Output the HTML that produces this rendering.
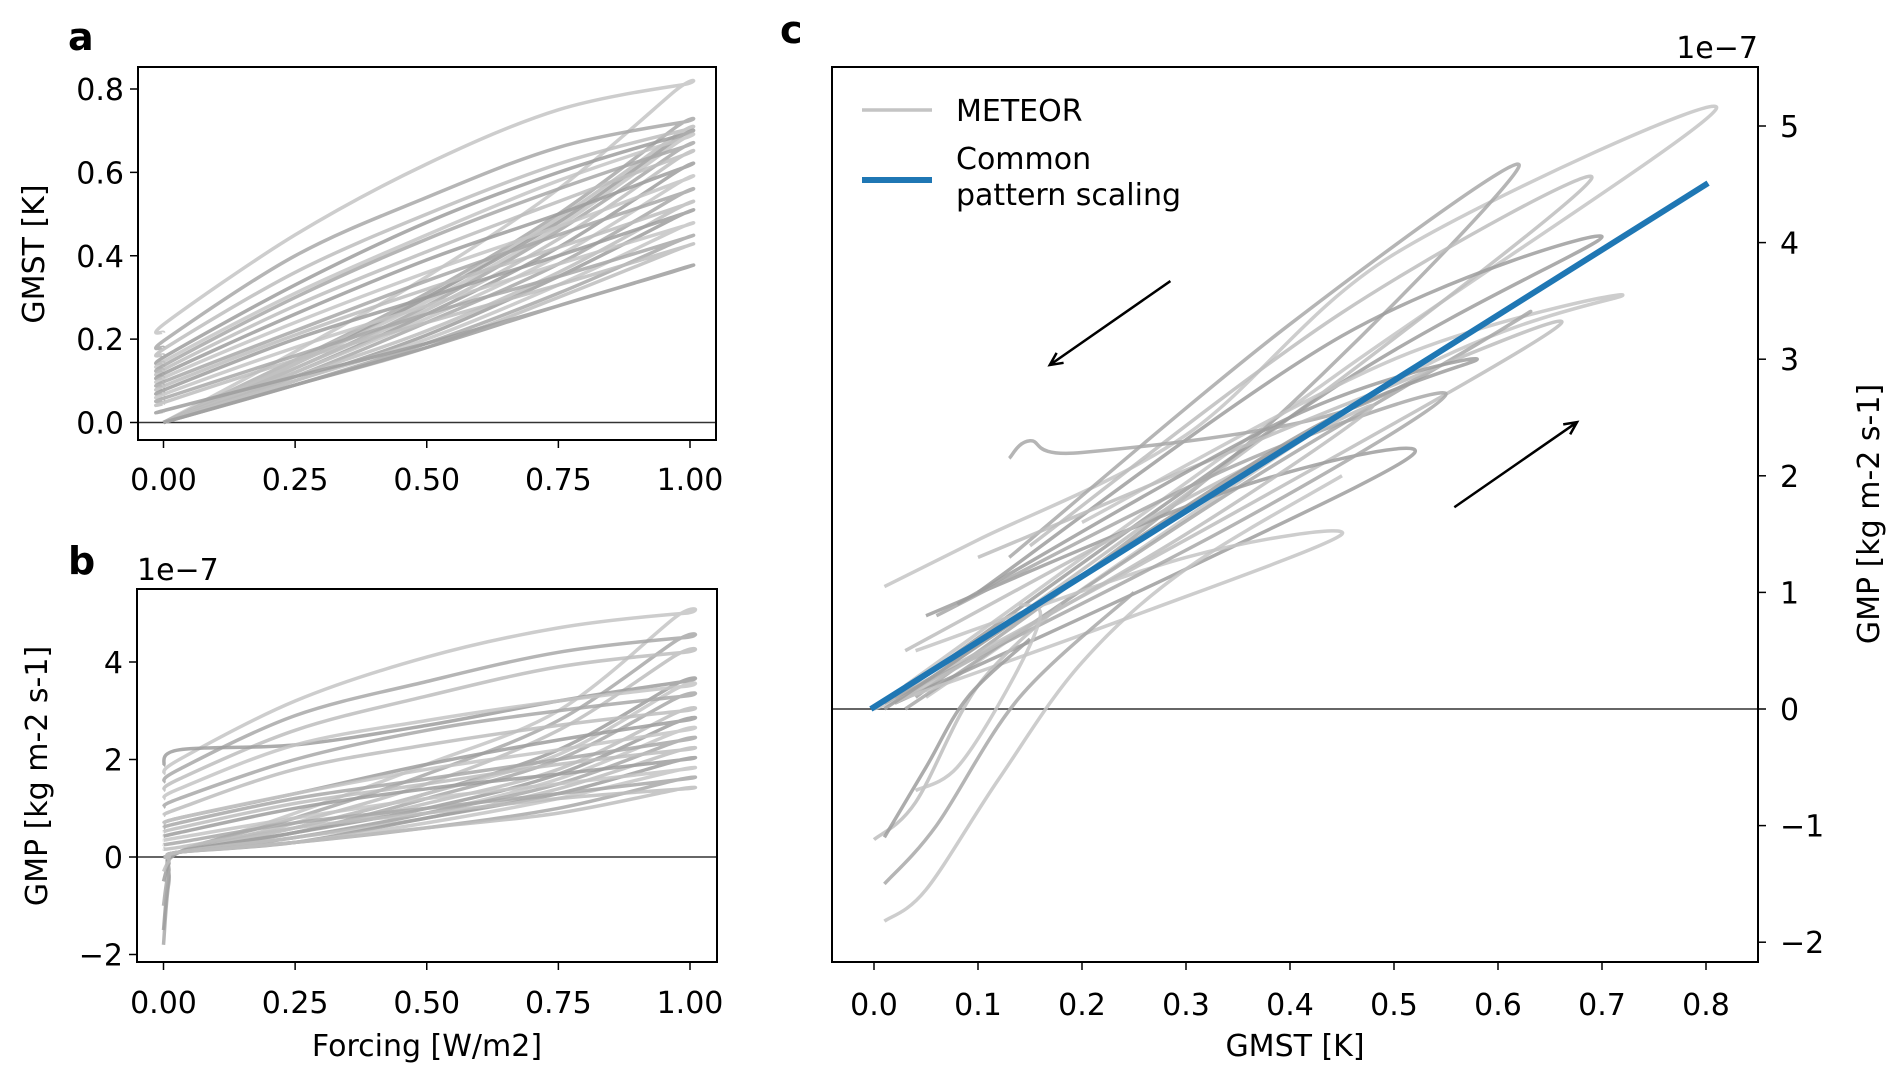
<!DOCTYPE html>
<html><head><meta charset="utf-8">
<style>
html,body{margin:0;padding:0;background:#fff;}
svg{display:block;font-family:"DejaVu Sans","Liberation Sans",sans-serif;}
</style></head>
<body>
<svg id="fig" width="1892" height="1079" viewBox="0 0 1892 1079" xmlns="http://www.w3.org/2000/svg">
<rect width="1892" height="1079" fill="#fff"/>
<g id="panelA"></g>
<g id="panelB"></g>
<g id="panelC"></g>
</svg>
<script>
// ---------- Panel a data (GMST vs forcing) ----------
const aPeaks = [0.81,0.72,0.70,0.69,0.68,0.66,0.64,0.61,0.58,0.55,0.52,0.50,0.47,0.44,0.42,0.37];
const aUpper = [[.24,.45,.62,.75],[.20,.40,.54,.66],[.18,.36,.50,.62],[.16,.33,.48,.60],[.15,.31,.45,.58],[.14,.30,.44,.56],[.13,.28,.41,.53],[.12,.26,.39,.50],[.11,.24,.36,.47],[.10,.22,.34,.45],[.09,.21,.32,.42],[.08,.20,.30,.40],[.07,.18,.28,.38],[.06,.16,.26,.35],[.05,.15,.24,.33],[.03,.11,.19,.28]];
const aLower = [[.17,.35,.56],[.15,.31,.50],[.15,.30,.49],[.14,.30,.48],[.14,.29,.47],[.13,.28,.46],[.13,.27,.44],[.12,.26,.42],[.12,.25,.40],[.11,.24,.38],[.11,.22,.36],[.10,.21,.35],[.10,.20,.33],[.09,.19,.31],[.09,.18,.30],[.09,.18,.28]];
const aYTicks = [0.0,0.2,0.4,0.6,0.8];
const forcingTicks = [0.00,0.25,0.50,0.75,1.00];
// ---------- Panel b data (GMP vs forcing, 1e-7) ----------
const bPeaks = [5.0,4.5,4.2,3.6,3.5,3.3,3.0,2.8,2.6,2.4,2.2,2.0,1.8,1.6,1.4];
const bStart = [0,-1.8,0,-1.5,0,-1.0,0,-0.5,0,0,-0.3,0,0,0,0];
const bUpper = [[2.0,3.2,4.1,4.7],[1.8,2.9,3.6,4.2],[1.6,2.6,3.3,3.9],[2.2,2.3,2.7,3.2],[1.4,2.3,2.8,3.2],[1.2,2.0,2.6,3.0],[1.0,1.8,2.3,2.7],[0.8,1.3,1.9,2.4],[0.8,1.3,1.8,2.2],[0.7,1.2,1.6,2.0],[0.6,1.1,1.5,1.9],[0.5,1.0,1.4,1.7],[0.4,0.8,1.2,1.5],[0.3,0.7,1.0,1.3],[0.2,0.6,0.9,1.2]];
const bLower = [[0.9,1.9,3.0],[0.8,1.7,2.8],[0.7,1.5,2.6],[0.6,1.3,2.2],[0.6,1.3,2.1],[0.5,1.2,2.0],[0.5,1.1,1.8],[0.5,1.0,1.7],[0.4,0.9,1.6],[0.4,0.9,1.5],[0.4,0.8,1.4],[0.3,0.8,1.3],[0.3,0.7,1.2],[0.3,0.6,1.0],[0.3,0.6,0.9]];
const bYTicks = [-2,0,2,4];
// ---------- Panel c data (GMP vs GMST) ----------
const cCurves = [
 [[0.03,0.2],[0.45,2.9],[0.81,5.15],[0.5,3.9],[0.3,2.35],[0.1,1.45],[0.01,1.05]],
 [[0.04,0.1],[0.35,2.2],[0.62,4.65],[0.4,3.3],[0.13,1.3]],
 [[0.03,0.1],[0.4,2.5],[0.69,4.55],[0.45,3.4],[0.15,1.4]],
 [[0.02,0.1],[0.45,2.8],[0.70,4.05],[0.45,3.2],[0.1,1.0]],
 [[0.05,0.1],[0.5,2.8],[0.72,3.55],[0.5,3.0],[0.2,1.6]],
 [[0.03,0.0],[0.35,1.9],[0.63,3.4],[0.45,2.55],[0.2,2.2],[0.15,2.3],[0.13,2.15]],
 [[0.02,0.1],[0.35,1.7],[0.66,3.3],[0.45,2.6],[0.1,1.3]],
 [[0.02,0.05],[0.3,1.2],[0.52,2.2],[0.35,1.9],[0.05,0.8]],
 [[0.0,0.0],[0.25,0.8],[0.45,1.5],[0.3,1.3],[0.04,0.5]],
 [[0.01,0.05],[0.35,1.6],[0.55,2.7],[0.35,2.1],[0.06,0.8]],
 [[0.02,0.05],[0.3,1.5],[0.48,2.6],[0.3,1.8],[0.03,0.5]],
 [[0.01,0.0],[0.4,2.3],[0.58,3.0],[0.4,2.5],[0.08,0.9]],
 [[0.01,-1.82],[0.05,-1.55],[0.12,-0.6],[0.2,0.4],[0.3,1.2],[0.45,2.0]],
 [[0.01,-1.5],[0.06,-1.0],[0.14,0.1],[0.25,1.0]],
 [[0.0,-1.12],[0.04,-0.8],[0.1,0.2],[0.18,0.9]],
 [[0.01,-1.1],[0.05,-0.5],[0.09,0.1],[0.15,0.6]],
 [[0.04,-0.7],[0.08,-0.5],[0.13,0.2],[0.16,0.8],[0.14,0.9]]
];
const cFit = [[-0.003,0.0],[0.802,4.51]];
const cXTicks = [0.0,0.1,0.2,0.3,0.4,0.5,0.6,0.7,0.8];
const cYTicks = [-2,-1,0,1,2,3,4,5];
const cArrows = [[[0.285,3.67],[0.169,2.95]],[[0.558,1.73],[0.676,2.46]]];

const NS='http://www.w3.org/2000/svg';
const FS=30;
function mk(parent,tag,attrs,text){const e=document.createElementNS(NS,tag);for(const k in attrs)e.setAttribute(k,attrs[k]);if(text!==undefined)e.textContent=text;parent.appendChild(e);return e;}
function lin(d0,d1,r0,r1){return v=>r0+(v-d0)*(r1-r0)/(d1-d0);}
function smooth(pts){let d='M'+pts[0][0].toFixed(1)+','+pts[0][1].toFixed(1);
 for(let i=0;i<pts.length-1;i++){const p0=pts[Math.max(i-1,0)],p1=pts[i],p2=pts[i+1],p3=pts[Math.min(i+2,pts.length-1)];
  const c1=[p1[0]+(p2[0]-p0[0])/6,p1[1]+(p2[1]-p0[1])/6],c2=[p2[0]-(p3[0]-p1[0])/6,p2[1]-(p3[1]-p1[1])/6];
  d+=' C'+c1[0].toFixed(1)+','+c1[1].toFixed(1)+' '+c2[0].toFixed(1)+','+c2[1].toFixed(1)+' '+p2[0].toFixed(1)+','+p2[1].toFixed(1);}
 return d;}
const GRAYS=['#c4c4c4','#a8a8a8','#bdbdbd','#9e9e9e'];

function frame(g,L,T,R,B){
 const r=mk(g,'rect',{x:L,y:T,width:R-L,height:B-T,fill:'none',stroke:'#000','stroke-width':2});
 }

// ---------- Panel a ----------
(function(){
 const g=document.getElementById('panelA');
 const L=138,R=716,T=67,B=440;
 const x=lin(0,1,163.5,690), y=lin(0,0.8,422.5,89);
 const zl=mk(g,'line',{x1:L,x2:R,y1:y(0),y2:y(0),stroke:'#333','stroke-width':1.5});
 
 const F=[0,0.25,0.5,0.75];
 aPeaks.forEach((pk,i)=>{
  const pts=[[0,0]];
  aLower[i].forEach((v,j)=>pts.push([F[j+1],v]));
  pts.push([0.97,pk*0.98]);pts.push([0.985,pk]);
  for(let j=3;j>=0;j--)pts.push([F[j]+ (j===0?0.005:0),aUpper[i][j]]);
  pts.push([0,aUpper[i][0]*0.9]);
  const p=mk(g,'path',{d:smooth(pts.map(q=>[x(q[0]),y(q[1])])),fill:'none',stroke:GRAYS[i%4],'stroke-width':3.5,'stroke-opacity':0.85});
  
 });
 frame(g,L,T,R,B);
 aYTicks.forEach(v=>{mk(g,'line',{x1:L-8,x2:L,y1:y(v),y2:y(v),stroke:'#000','stroke-width':1.5});
  const t=mk(g,'text',{x:L-14,y:y(v)+11,'text-anchor':'end','font-size':FS},v.toFixed(1));
  });
 forcingTicks.forEach(v=>{mk(g,'line',{x1:x(v),x2:x(v),y1:B,y2:B+8,stroke:'#000','stroke-width':1.5});
  const t=mk(g,'text',{x:x(v),y:B+50,'text-anchor':'middle','font-size':FS},v.toFixed(2));
  });
 const yl=mk(g,'text',{x:0,y:0,transform:'translate(44,254) rotate(-90)','text-anchor':'middle','font-size':FS},'GMST [K]');
 
 const pl=mk(g,'text',{x:68,y:50,'font-size':38,'font-weight':'bold'},'a');
 
})();

// ---------- Panel b ----------
(function(){
 const g=document.getElementById('panelB');
 const L=137,R=717,T=589,B=962;
 const x=lin(0,1,163.5,690), y=lin(0,4,857,662);
 const zl=mk(g,'line',{x1:L,x2:R,y1:y(0),y2:y(0),stroke:'#333','stroke-width':1.5});
 
 const F=[0,0.25,0.5,0.75];
 bPeaks.forEach((pk,i)=>{
  const pts=[[0,bStart[i]],[0.01,bStart[i]*0.3],[0.03,0.1]];
  bLower[i].forEach((v,j)=>pts.push([F[j+1],v]));
  pts.push([0.97,pk*0.98]);pts.push([0.99,pk]);
  for(let j=3;j>=1;j--)pts.push([F[j],bUpper[i][j]]);
  pts.push([0.03,bUpper[i][0]]);pts.push([0,bUpper[i][0]*0.85]);
  const p=mk(g,'path',{d:smooth(pts.map(q=>[x(q[0]),y(q[1])])),fill:'none',stroke:GRAYS[i%4],'stroke-width':3.5,'stroke-opacity':0.85});
  
 });
 frame(g,L,T,R,B);
 bYTicks.forEach(v=>{mk(g,'line',{x1:L-8,x2:L,y1:y(v),y2:y(v),stroke:'#000','stroke-width':1.5});
  const t=mk(g,'text',{x:L-14,y:y(v)+11,'text-anchor':'end','font-size':FS},v<0?'\u2212'+Math.abs(v):String(v));
  });
 forcingTicks.forEach(v=>{mk(g,'line',{x1:x(v),x2:x(v),y1:B,y2:B+8,stroke:'#000','stroke-width':1.5});
  const t=mk(g,'text',{x:x(v),y:B+51,'text-anchor':'middle','font-size':FS},v.toFixed(2));
  });
 const off=mk(g,'text',{x:L,y:580,'font-size':FS},'1e\u22127');
 
 const yl=mk(g,'text',{x:0,y:0,transform:'translate(47,776) rotate(-90)','text-anchor':'middle','font-size':FS},'GMP [kg m-2 s-1]');
 
 const xl=mk(g,'text',{x:427,y:1056,'text-anchor':'middle','font-size':FS},'Forcing [W/m2]');
 
 const pl=mk(g,'text',{x:68,y:574,'font-size':38,'font-weight':'bold'},'b');
 
})();

// ---------- Panel c ----------
(function(){
 const g=document.getElementById('panelC');
 const L=832,R=1758,T=67,B=962;
 const x=lin(0,0.1,874,978), y=lin(0,5,709,126);
 const zl=mk(g,'line',{x1:L,x2:R,y1:y(0),y2:y(0),stroke:'#333','stroke-width':1.5});
 
 cCurves.forEach((c,i)=>{
  const p=mk(g,'path',{d:smooth(c.map(q=>[x(q[0]),y(q[1])])),fill:'none',stroke:GRAYS[i%4],'stroke-width':3.5,'stroke-opacity':0.85});
  
 });
 const fit=mk(g,'line',{x1:x(cFit[0][0]),y1:y(cFit[0][1]),x2:x(cFit[1][0]),y2:y(cFit[1][1]),stroke:'#1f77b4','stroke-width':6});
 
 cArrows.forEach(a=>{
  const x1=x(a[0][0]),y1=y(a[0][1]),x2=x(a[1][0]),y2=y(a[1][1]);
  const ang=Math.atan2(y2-y1,x2-x1),h=14;
  const ar=mk(g,'path',{d:`M${x1},${y1} L${x2},${y2} M${x2-h*Math.cos(ang-0.45)},${y2-h*Math.sin(ang-0.45)} L${x2},${y2} L${x2-h*Math.cos(ang+0.45)},${y2-h*Math.sin(ang+0.45)}`,fill:'none',stroke:'#000','stroke-width':2.5});
  
 });
 frame(g,L,T,R,B);
 cXTicks.forEach(v=>{mk(g,'line',{x1:x(v),x2:x(v),y1:B,y2:B+8,stroke:'#000','stroke-width':1.5});
  const t=mk(g,'text',{x:x(v),y:B+53,'text-anchor':'middle','font-size':FS},v.toFixed(1));
  });
 cYTicks.forEach(v=>{mk(g,'line',{x1:R,x2:R+8,y1:y(v),y2:y(v),stroke:'#000','stroke-width':1.5});
  const t=mk(g,'text',{x:R+22,y:y(v)+11,'text-anchor':'start','font-size':FS},v<0?'\u2212'+Math.abs(v):String(v));
  });
 const off=mk(g,'text',{x:R,y:58,'text-anchor':'end','font-size':FS},'1e\u22127');
 
 const yl=mk(g,'text',{x:0,y:0,transform:'translate(1879,514) rotate(-90)','text-anchor':'middle','font-size':FS},'GMP [kg m-2 s-1]');
 
 const xl=mk(g,'text',{x:1295,y:1056,'text-anchor':'middle','font-size':FS},'GMST [K]');
 
 const pl=mk(g,'text',{x:780,y:43,'font-size':38,'font-weight':'bold'},'c');
 
 const lg=mk(g,'g',{});
 
 mk(lg,'line',{x1:862,x2:932,y1:110,y2:110,stroke:'#c4c4c4','stroke-width':3.5});
 const t1=mk(lg,'text',{x:956,y:121,'font-size':FS},'METEOR');
 
 mk(lg,'line',{x1:862,x2:932,y1:180,y2:180,stroke:'#1f77b4','stroke-width':6});
 const t2=mk(lg,'text',{x:956,y:169,'font-size':FS},'Common');
 
 const t3=mk(lg,'text',{x:956,y:205,'font-size':FS},'pattern scaling');
 
})();
</script>
</body></html>
